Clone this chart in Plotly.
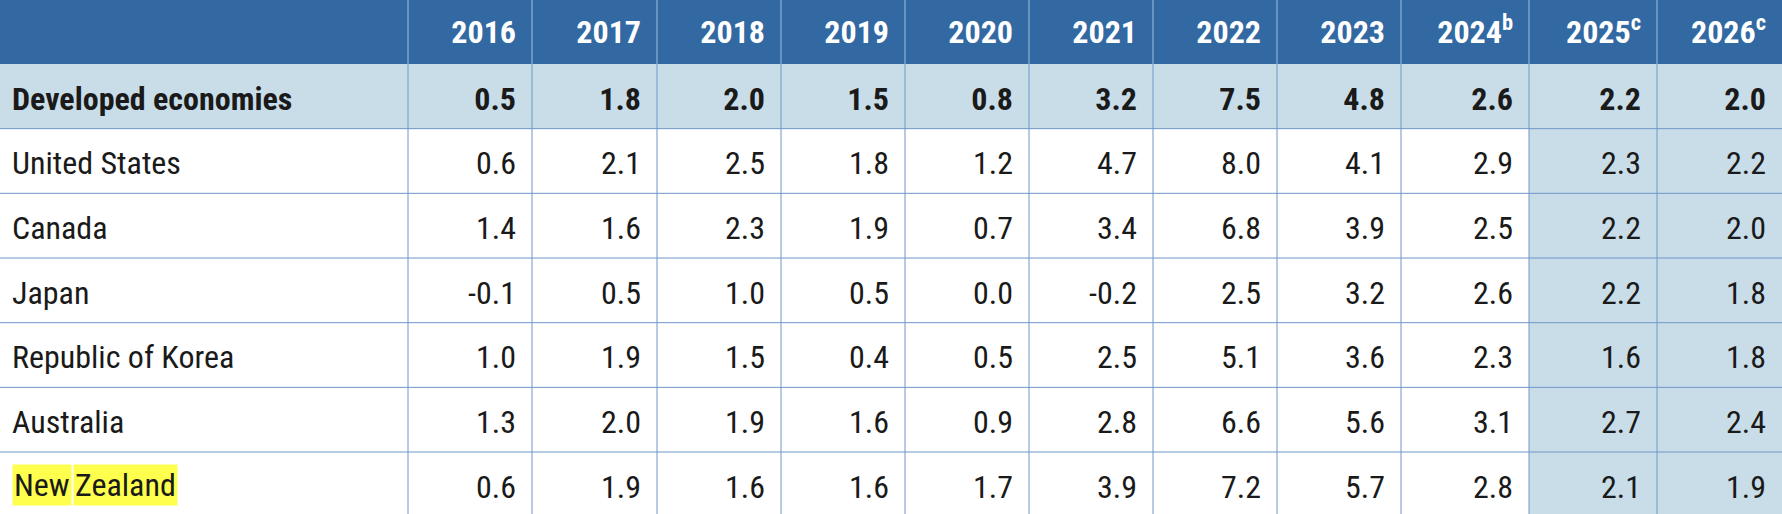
import plotly.graph_objects as go

years = ["2016", "2017", "2018", "2019", "2020", "2021", "2022", "2023",
         "2024<sup>b</sup>", "2025<sup>c</sup>", "2026<sup>c</sup>"]
regions = ["Developed economies", "United States", "Canada", "Japan",
           "Republic of Korea", "Australia", "New Zealand"]

developed = [0.5, 1.8, 2.0, 1.5, 0.8, 3.2, 7.5, 4.8, 2.6, 2.2, 2.0]
united_states = [0.6, 2.1, 2.5, 1.8, 1.2, 4.7, 8.0, 4.1, 2.9, 2.3, 2.2]
canada = [1.4, 1.6, 2.3, 1.9, 0.7, 3.4, 6.8, 3.9, 2.5, 2.2, 2.0]
japan = [-0.1, 0.5, 1.0, 0.5, 0.0, -0.2, 2.5, 3.2, 2.6, 2.2, 1.8]
korea = [1.0, 1.9, 1.5, 0.4, 0.5, 2.5, 5.1, 3.6, 2.3, 1.6, 1.8]
australia = [1.3, 2.0, 1.9, 1.6, 0.9, 2.8, 6.6, 5.6, 3.1, 2.7, 2.4]
new_zealand = [0.6, 1.9, 1.6, 1.6, 1.7, 3.9, 7.2, 5.7, 2.8, 2.1, 1.9]

rows = [developed, united_states, canada, japan, korea, australia, new_zealand]
highlight_row = "New Zealand"
projection_cols = 2  # 2025, 2026 shaded

# ---- layout constants (pixels) ----
W, H = 1782, 514
col_widths = [408, 124, 125, 124, 124, 124, 124, 124, 124, 128, 128, 125]
header_h = 64
row_h = 64.67
PAD_R = 16
PAD_L = 12

HEADER_BG = "#3369a2"
LIGHT = "#c9dde9"
WHITE = "#ffffff"
LINE = "#6f97c8"
HEADER_LINE = "#a5bfdc"
TEXT = "#1a1a1a"
YELLOW = "#ffff4d"
FONT = "Roboto Condensed, Liberation Sans Narrow, Roboto, sans-serif"
FS = 32
# plotly 'middle' text puts the cap-height centre ~0.107*FS above the point
MID_FIX = 0.107 * FS

x_edges = [0]
for w in col_widths:
    x_edges.append(x_edges[-1] + w)
y_edges = [0, header_h] + [header_h + row_h * (i + 1) for i in range(len(rows))]

ncols = len(col_widths)
ny = len(years)
# z codes: 0 white, 1 light blue, 2 header
z = [[2] * ncols]
for i in range(len(rows)):
    zr = []
    for j in range(ncols):
        if i == 0 or j >= ncols - projection_cols:
            zr.append(1)
        else:
            zr.append(0)
    z.append(zr)

fig = go.Figure()
fig.add_trace(go.Heatmap(
    x=x_edges, y=y_edges, z=z, zmin=0, zmax=2,
    colorscale=[[0, WHITE], [0.5, LIGHT], [1, HEADER_BG]],
    showscale=False, hoverinfo="skip",
))

# header texts
hdr_x = [x_edges[j + 2] - PAD_R for j in range(ny)]
fig.add_trace(go.Scatter(
    x=hdr_x, y=[header_h / 2 + MID_FIX] * ny, mode="text", text=years,
    textposition="middle left",
    textfont=dict(family=FONT, size=FS, color="white", weight="bold"),
    hoverinfo="skip", showlegend=False,
))

# row label texts (highlighted row drawn separately)
row_y = [header_h + row_h * (i + 0.5) + 2 + MID_FIX for i in range(len(rows))]
hi = regions.index(highlight_row)
plain_idx = [i for i in range(1, len(regions)) if i != hi]
fig.add_trace(go.Scatter(
    x=[PAD_L], y=row_y[:1], mode="text", text=regions[:1],
    textposition="middle right",
    textfont=dict(family=FONT, size=FS, color=TEXT, weight="bold"),
    hoverinfo="skip", showlegend=False,
))
fig.add_trace(go.Scatter(
    x=[PAD_L] * len(plain_idx), y=[row_y[i] for i in plain_idx], mode="text",
    text=[regions[i] for i in plain_idx],
    textposition="middle right",
    textfont=dict(family=FONT, size=FS, color=TEXT),
    hoverinfo="skip", showlegend=False,
))

# values
for i, r in enumerate(rows):
    fig.add_trace(go.Scatter(
        x=hdr_x, y=[row_y[i]] * ny, mode="text",
        text=[f"{v:.1f}" for v in r],
        textposition="middle left",
        textfont=dict(family=FONT, size=FS, color=TEXT,
                      weight="bold" if i == 0 else "normal"),
        hoverinfo="skip", showlegend=False,
    ))

# highlighted words (yellow marker boxes)
word_x = [PAD_L, 73]
for w, x in zip(highlight_row.split(" "), word_x):
    fig.add_annotation(
        x=x, y=header_h + row_h * (hi + 0.5) + 1, xref="x", yref="y",
        xanchor="left", yanchor="middle", text=w, showarrow=False,
        bgcolor=YELLOW, borderpad=1,
        font=dict(family=FONT, size=FS, color=TEXT),
    )

# grid lines
shapes = []
for xe in x_edges[1:-1]:
    shapes.append(dict(type="line", x0=xe, x1=xe, y0=0, y1=header_h,
                       line=dict(color=HEADER_LINE, width=1), layer="above"))
    shapes.append(dict(type="line", x0=xe, x1=xe, y0=header_h, y1=H,
                       line=dict(color=LINE, width=1), layer="above"))
for ye in y_edges[2:-1]:
    shapes.append(dict(type="line", x0=0, x1=W, y0=ye, y1=ye,
                       line=dict(color=LINE, width=1), layer="above"))

fig.update_layout(
    width=W, height=H,
    margin=dict(l=0, r=0, t=0, b=0),
    paper_bgcolor="white", plot_bgcolor="white",
    xaxis=dict(range=[0, W], visible=False, fixedrange=True),
    yaxis=dict(range=[H, 0], visible=False, fixedrange=True),
    shapes=shapes,
    showlegend=False,
)
fig.write_html("out.html", config={"displayModeBar": False},
               post_script="document.body.style.margin='0px';")
